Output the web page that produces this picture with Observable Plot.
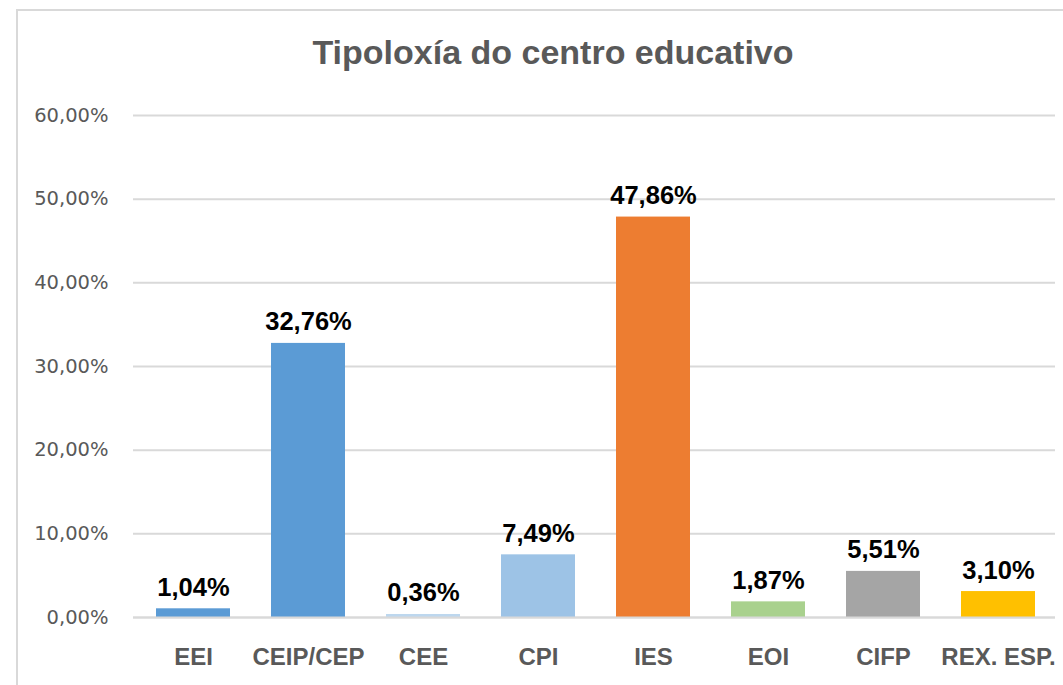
<!DOCTYPE html>
<html>
<head>
<meta charset="utf-8">
<script src="https://cdn.jsdelivr.net/npm/d3@7"></script>
<script src="https://cdn.jsdelivr.net/npm/@observablehq/plot@0.6"></script>
<style>
  html, body { margin: 0; padding: 0; background: #fff; }
  #wrap { position: relative; width: 1063px; height: 685px; overflow: hidden; }
  #frame { position: absolute; left: 16px; top: 9px; width: 1100px; height: 700px;
           border-left: 2px solid #d9d9d9; border-top: 2px solid #d9d9d9; }
  #title { position: absolute; left: 0; width: 1106px; top: 33px; text-align: center;
           font-family: "Liberation Sans", Arial, sans-serif; font-weight: bold;
           font-size: 34px; color: #595959; }
  #chart { position: absolute; left: 0; top: 0; }
</style>
</head>
<body>
<div id="wrap">
  <div id="frame"></div>
  <div id="chart"></div>
  <div id="title">Tipoloxía do centro educativo</div>
</div>
<script>
const categories = ["EEI", "CEIP/CEP", "CEE", "CPI", "IES", "EOI", "CIFP", "REX. ESP."];
const values = [0.0104, 0.3276, 0.0036, 0.0749, 0.4786, 0.0187, 0.0551, 0.0310];
const colors = ["#5B9BD5", "#5B9BD5", "#BDD7EE", "#9DC3E6", "#ED7D31", "#A9D18E", "#A5A5A5", "#FFC000"];
const yTicks = [0, 0.1, 0.2, 0.3, 0.4, 0.5, 0.6];

const data = categories.map((c, i) => ({cat: c, value: values[i], color: colors[i]}));
const loc = d3.formatLocale({decimal: ",", thousands: ".", grouping: [3], currency: ["", "€"]});
const pct = loc.format(".2%");

const chart = Plot.plot({
  width: 1063,
  height: 685,
  marginTop: 115,
  marginBottom: 68,
  marginLeft: 135,
  marginRight: 8,
  style: {background: "transparent", overflow: "visible"},
  x: {domain: categories, paddingInner: 0.36, paddingOuter: 0.18, label: null},
  y: {domain: [0, 0.6], label: null},
  marks: [
    Plot.ruleY(yTicks, {stroke: "#d9d9d9", strokeWidth: 2, insetLeft: -2}),
    Plot.barY(data, {x: "cat", y: "value", fill: "color"}),
    Plot.ruleY([0], {stroke: "#d9d9d9", strokeWidth: 2, insetLeft: -2}),
    Plot.text(data, {x: "cat", y: "value", text: d => pct(d.value), lineAnchor: "bottom", dy: -13,
      fontFamily: "Liberation Sans, Arial, sans-serif", fontWeight: "bold", fontSize: 25.5, fill: "#000"}),
    Plot.axisY({ticks: yTicks, tickFormat: pct, tickSize: 0, tickPadding: 27,
      fontFamily: "DejaVu Sans, sans-serif", fontSize: 19.5, fill: "#595959", label: null}),
    Plot.axisX({tickSize: 0, tickPadding: 30, fontFamily: "Liberation Sans, Arial, sans-serif",
      fontWeight: "bold", fontSize: 24, fill: "#595959", label: null})
  ]
});
document.getElementById("chart").appendChild(chart);
</script>
</body>
</html>
